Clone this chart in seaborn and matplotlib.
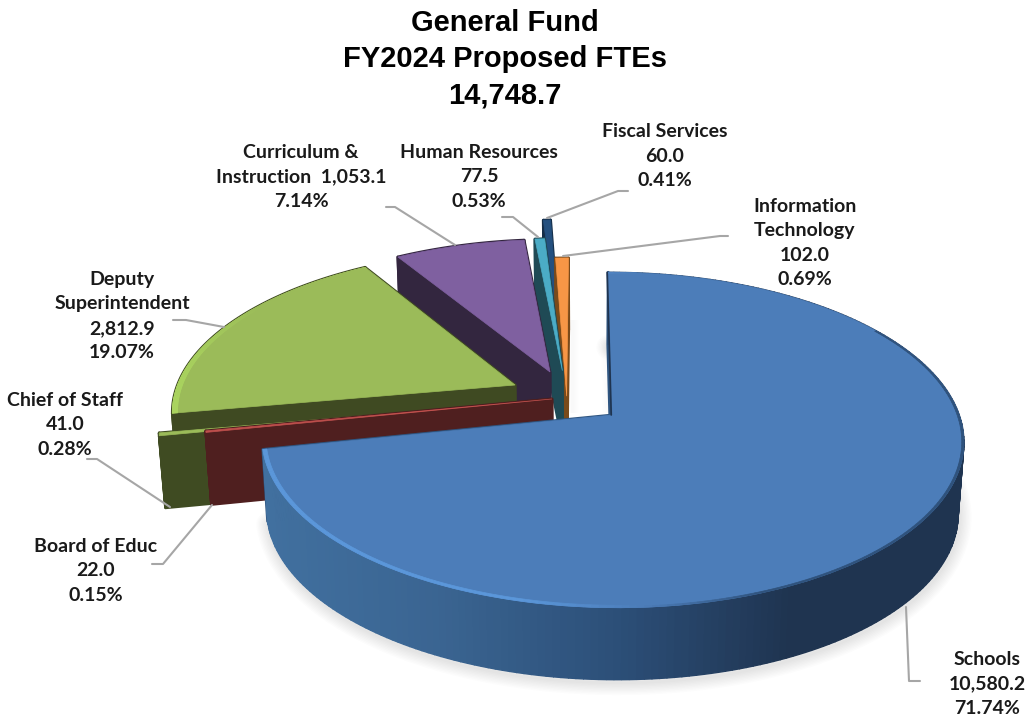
# plot.py

import numpy as np
import matplotlib
matplotlib.use("Agg")
import matplotlib.pyplot as plt
import matplotlib.transforms as mtransforms
import seaborn as sns

# data, clockwise from 12 o'clock
slice_names = ["Schools", "Board of Educ", "Chief of Staff", "Deputy\nSuperintendent",
               "Curriculum &\nInstruction", "Human Resources", "Fiscal Services",
               "Information\nTechnology"]
fte_values = [10580.2, 22.0, 41.0, 2812.9, 1053.1, 77.5, 60.0, 102.0]
name_seps = ["\n", "\n", "\n", "\n", "  ", "\n", "\n", "\n"]
title_lines = ["General Fund", "FY2024 Proposed FTEs"]

# styles, same order as the data
top_colors = ["#4c7db9", "#c0504d", "#9bbb59", "#9bbb59", "#7f60a0", "#4bacc6", "#24507f", "#f79646"]
wall_colors = ["#2f5580", "#4f1f1f", "#3f4b22", "#3f4a22", "#33263f", "#1f4a55", "#152e48", "#7a4a1a"]
slice_offsets = [(0.09, 0.0), (-0.085, 0.099), (-0.212, 0.070), (-0.1955, 0.188),
                 (-0.093, 0.273), (-0.056, 0.282), (-0.063, 0.446), (-0.042, 0.117)]
draw_order = [6, 7, 5, 4, 3, 2, 1, 0]
label_pos = [(987, 684), (96, 571), (65, 425), (122, 316), (301, 177), (479, 177), (665, 156), (805, 243)]
leaders = [[(906, 607), (909, 681), (920, 681)], [(152, 564), (163, 564), (212, 505)],
           [(87, 459), (97, 459), (170, 507)], [(173, 320), (186, 320), (224, 327)],
           [(386, 207), (395, 207), (455, 245)], [(502, 217), (513, 217), (538, 237)],
           [(628, 191), (618, 191), (547, 218)], [(728, 236), (720, 236), (563, 256)]]

# camera of the fake 3d pie, in pixels
CX, CY = 581, 415
SX, SY = 347, 164
PERSP = 0.149
DEPTH = 72
CONVERGE = 0.015


def project(u, v, z=0.0):
    # pie plane (u, v) and depth z (0 top, 1 bottom) to picture pixels
    u, v = np.asarray(u, float), np.asarray(v, float)
    w = 1 + PERSP * v
    x = CX + (SX * u / w) * (1 - CONVERGE * z)
    y = CY - SY * v / w + DEPTH * z
    return x, y


class PieProjection(mtransforms.Transform):
    input_dims = 2
    output_dims = 2

    def transform_non_affine(self, values):
        x, y = project(values[:, 0], values[:, 1])
        return np.column_stack([x, y])


def arc_uv(center, radius, t1, t2, n=240):
    a = np.radians(np.linspace(t1, t2, n))
    return center[0] + radius * np.cos(a), center[1] + radius * np.sin(a)


sns.set_theme(style="white")
plt.rcParams["font.family"] = ["Lato", "DejaVu Sans"]

fig = plt.figure(figsize=(10.29, 7.19), dpi=100)
ax = fig.add_axes([0, 0, 1, 1])

wedges, _ = ax.pie(fte_values, colors=top_colors, startangle=90, counterclock=False)

ax.set_aspect("auto")
ax.set_xlim(0, 1029)
ax.set_ylim(719, 0)
ax.axis("off")

proj = PieProjection()
schools_wall = sns.blend_palette(["#41709f", "#3a6491", "#2c4f78", "#1f3450", "#1f3450"], as_cmap=True)
light_rim = sns.blend_palette(["#5b97da", "#5b97da", "#5b97da", "#4c7db9"], as_cmap=True)
dark_rim = sns.blend_palette(["#4c7db9", "#2f527c"], as_cmap=True)
deputy_rim = sns.blend_palette(["#aad45f", "#9bbb59"], as_cmap=True)

for rank, i in enumerate(draw_order):
    wedge = wedges[i]
    zo = 10 + rank * 10
    center = slice_offsets[i]
    t1, t2 = wedge.theta1, wedge.theta2

    # cut faces
    for t in (t1, t2):
        ou, ov = arc_uv(center, 1, t, t, 2)
        x0, y0 = project(center[0], center[1], 0)
        x1, y1 = project(ou[0], ov[0], 0)
        x2, y2 = project(ou[0], ov[0], 1)
        x3, y3 = project(center[0], center[1], 1)
        ax.fill([x0, x1, x2, x3], [y0, y1, y2, y3], color=wall_colors[i], lw=2,
                joinstyle="round", zorder=zo, clip_on=False)

    # outer wall
    au, av = arc_uv(center, 1, t1, t2)
    xt, yt = project(au, av, 0)
    xb, yb = project(au, av, 1)
    if i == 0:
        # soft shadow under the big slice
        for lw in range(2, 20, 2):
            ax.plot(xb + 1, yb + 3, color="black", alpha=0.012, lw=lw, zorder=zo - 1, solid_capstyle="round")
        for k in range(len(xt) - 1):
            c = schools_wall(np.clip((xt[k] - 265) / 700, 0, 1))
            ax.fill([xt[k], xt[k + 1], xb[k + 1], xb[k]], [yt[k], yt[k + 1], yb[k + 1], yb[k]],
                    color=c, lw=1.0, zorder=zo)
    else:
        ax.fill(np.r_[xt, xb[::-1]], np.r_[yt, yb[::-1]], color=wall_colors[i], lw=2,
                joinstyle="round", zorder=zo)

    # top face is the wedge from ax.pie, moved and projected
    wedge.set_center(center)
    wedge.set_transform(proj + ax.transData)
    wedge.set_zorder(zo + 1)
    wedge.set_clip_on(False)
    wedge.set_edgecolor(top_colors[i])
    wedge.set_linewidth(0.5)

    # bevel on the rim: light on the left, dark and thin on the right
    if i == 0:
        iu, iv = arc_uv(center, 0.989, t1, t2)
        xi, yi = project(iu, iv, 0)
        du, dv = arc_uv(center, 0.994, t1, t2)
        xd, yd = project(du, dv, 0)
        for k in range(len(xt) - 1):
            if xt[k] < 640:
                c = light_rim(np.clip((xt[k] - 265) / 375, 0, 1))
                ax.fill([xi[k], xi[k + 1], xt[k + 1], xt[k]], [yi[k], yi[k + 1], yt[k + 1], yt[k]],
                        color=c, lw=0.5, zorder=zo + 2)
            elif av[k] < 0.55:
                c = dark_rim(np.clip((xt[k] - 640) / 120, 0, 1))
                ax.fill([xd[k], xd[k + 1], xt[k + 1], xt[k]], [yd[k], yd[k + 1], yt[k + 1], yt[k]],
                        color=c, lw=0.5, zorder=zo + 2)
    if i == 3:
        iu, iv = arc_uv(center, 0.985, t1, t2)
        xi, yi = project(iu, iv, 0)
        for k in range(len(xt) - 1):
            c = deputy_rim(np.clip((xt[k] - 172) / 90, 0, 1))
            ax.fill([xi[k], xi[k + 1], xt[k + 1], xt[k]], [yi[k], yi[k + 1], yt[k + 1], yt[k]],
                    color=c, lw=0.5, zorder=zo + 2)

# thin dark edge on the vertical cut of Schools
ex, ey = arc_uv(slice_offsets[0], 1, 90, 90, 2)
x0, y0 = project(slice_offsets[0][0], slice_offsets[0][1])
x1, y1 = project(ex[0], ey[0])
ax.plot([x0 - 1, x1 - 1], [y0, y1], color="#1f3450", lw=1.2, zorder=95)

# soft shadow in the white gap
for d in range(1, 9):
    ax.plot([x0 - 1 - d, x0 - 3 - d], [y0 - 2, y0 - 75], color="black", alpha=0.008 * (9 - d) / 4, lw=1.2,
            zorder=5, solid_capstyle="butt")
    ax.plot([570 + d, 570 + d], [y0 - 2, y0 - 95], color="black", alpha=0.008 * (9 - d) / 4, lw=1.2,
            zorder=5, solid_capstyle="butt")

# leader lines
for pts in leaders:
    ax.plot([p[0] for p in pts], [p[1] for p in pts], color="#a6a6a6", lw=1.5, zorder=120,
            solid_joinstyle="round")

# labels
total = sum(fte_values)
for name, sep, val, (lx, ly) in zip(slice_names, name_seps, fte_values, label_pos):
    ax.text(lx, ly, f"{name}{sep}{val:,.1f}\n{val / total * 100:.2f}%", ha="center", va="center",
            fontsize=14, fontweight="bold", color="#1a1a1a", linespacing=1.54, zorder=130)

# title
ax.text(505, 59, "\n".join(title_lines + [f"{total:,.1f}"]), ha="center", va="center",
        family=["Liberation Sans"], fontsize=21, fontweight="bold", color="black",
        linespacing=1.37, zorder=130)

fig.savefig("out.png", dpi=100)
